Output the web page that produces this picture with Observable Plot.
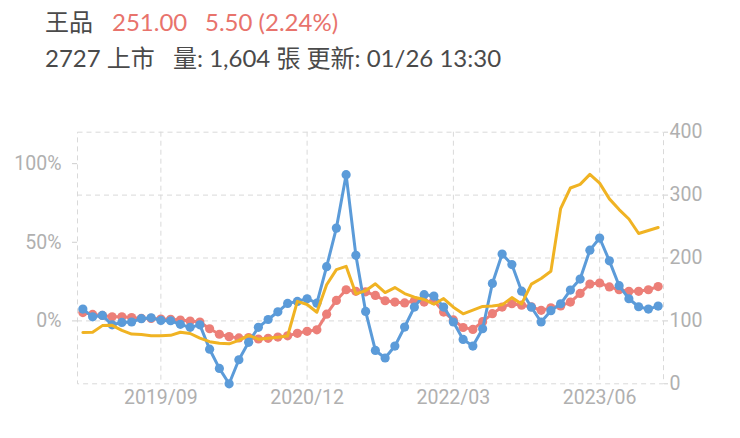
<!DOCTYPE html>
<html><head><meta charset="utf-8">
<script src="https://cdn.jsdelivr.net/npm/d3@7"></script>
<script src="https://cdn.jsdelivr.net/npm/@observablehq/plot@0.6"></script>
<style>
body{margin:0;background:#fff;width:740px;height:438px;overflow:hidden;font-family:Lato,"Noto Sans CJK TC",sans-serif;}
#hdr{position:relative;height:84px;}
#hdr span{position:absolute;white-space:nowrap;font-size:24px;line-height:24px;}
#chart svg{display:block;}
</style></head><body>
<div id="hdr">
<span style="left:45px;top:10px;color:#4a4a4a">王品</span>
<span style="left:112px;top:10px;color:#e8736c">251.00</span>
<span style="left:205px;top:10px;color:#e8736c">5.50 (2.24%)</span>
<span style="left:45px;top:46px;color:#4a4a4a">2727 上市</span>
<span style="left:173px;top:46px;color:#4a4a4a">量: 1,604 張 更新: 01/26 13:30</span>
</div>
<div id="chart"></div>
<script>
const months = [
"2019/01","2019/02","2019/03","2019/04","2019/05","2019/06","2019/07","2019/08","2019/09","2019/10","2019/11","2019/12",
"2020/01","2020/02","2020/03","2020/04","2020/05","2020/06","2020/07","2020/08","2020/09","2020/10","2020/11","2020/12",
"2021/01","2021/02","2021/03","2021/04","2021/05","2021/06","2021/07","2021/08","2021/09","2021/10","2021/11","2021/12",
"2022/01","2022/02","2022/03","2022/04","2022/05","2022/06","2022/07","2022/08","2022/09","2022/10","2022/11","2022/12",
"2023/01","2023/02","2023/03","2023/04","2023/05","2023/06","2023/07","2023/08","2023/09","2023/10","2023/11","2023/12"];
// monthly revenue YoY (%), left axis
const revenueYoY = [7.5,2.6,3.5,-2.5,-1.0,-0.7,1.4,2.0,0.3,0.1,
 -2.2,-4.1,-2.5,-18.0,-30.2,-40,-24.7,-13.6,-4.1,0.9,
 5.8,11.1,12.4,14.1,11.3,34.5,59,93,41.7,6.0,
 -18.8,-23.6,-16,-3.9,8.8,16.7,15.8,8.8,-0.7,-11.8,
 -16,-5.0,23.8,42.5,35.8,18.9,8.7,-0.7,6.5,10.9,
 19.6,26.6,45,52.7,38.2,22.4,14.1,9.0,7.5,9.4];
// cumulative revenue YoY (%), left axis
const cumulativeYoY = [5.3,4.1,3.5,2.6,2.6,2.1,1.6,1.6,1.2,1.0,
 0.5,-0.1,-0.7,-5.0,-8.5,-10.0,-10.8,-10.6,-11.5,-11.1,
 -10.3,-9.5,-7.9,-6.6,-5.7,4.3,13.0,19.8,18.8,18.5,
 16.2,12.8,12.0,11.4,12.8,12.0,13.0,5.6,0.6,-4.2,
 -5.4,-0.5,4.6,8.8,10.9,10.0,9.0,6.7,8.3,9.5,
 12.0,17.5,23.4,24.1,21.6,19.8,18.8,18.8,19.8,21.8];
// monthly price, right axis
const price = [81.5,82,92.5,93,85,79,78.5,76.5,76.5,77,
 82,80,72.5,67,64.5,63.6,69,77,71,72.5,
 74,76,131,126,113.8,157.5,181.5,186.7,143,148,
 159,145,153,143.5,137.7,134,126.5,135.5,121.8,111.3,
 117,123,123.7,125.5,137,127,158.5,167.5,178.8,278.5,
 311.3,317,333,319,294,277,262,239,243.7,248.5];
const pctTicks = [0, 50, 100];
const priceTicks = [0, 100, 200, 300, 400];
const dateTicks = ["2019/09","2020/12","2022/03","2023/06"];

const BLUE = "#5b9bd9", RED = "#ec7f78", YELLOW = "#f0b323";
const pctToPrice = p => 100 + 2.5 * p;
const rows = months.map((m, i) => ({month: m, rev: revenueYoY[i], cum: cumulativeYoY[i], price: price[i]}));
const grid = {stroke: "#d9d9d9", strokeOpacity: 1, strokeDasharray: "5,4"};
const axisColor = "#b0b0b0";

const chart = Plot.plot({
  width: 740, height: 354,
  marginLeft: 77, marginRight: 77, marginTop: 47.7, marginBottom: 54.7,
  style: {fontFamily: "Roboto", fontSize: "19.5px", background: "#fff", overflow: "visible"},
  x: {type: "point", domain: months, padding: 0.55, axis: null},
  y: {domain: [0, 400], axis: null},
  marks: [
    Plot.gridX(dateTicks, grid),
    Plot.gridY([100, 200, 300], grid),
    Plot.frame(grid),
    Plot.axisX({ticks: dateTicks, anchor: "bottom", label: null, tickSize: 0, tickPadding: 6, fill: axisColor, fontSize: 19.5}),
    Plot.axisY({ticks: pctTicks.map(pctToPrice), anchor: "left", label: null, tickSize: 5, tickPadding: 11,
      tickFormat: v => Math.round((v - 100) / 2.5) + "%", stroke: "#cfcfcf", fill: axisColor, fontSize: 19.5}),
    Plot.axisY({ticks: priceTicks, anchor: "right", label: null, tickSize: 4, tickPadding: 2,
      stroke: "#cfcfcf", fill: axisColor, fontSize: 19.5}),
    Plot.line(rows, {x: "month", y: d => pctToPrice(d.cum), stroke: RED, strokeWidth: 3}),
    Plot.dot(rows, {x: "month", y: d => pctToPrice(d.cum), fill: RED, r: 4.6}),
    Plot.line(rows, {x: "month", y: d => pctToPrice(d.rev), stroke: BLUE, strokeWidth: 3}),
    Plot.dot(rows, {x: "month", y: d => pctToPrice(d.rev), fill: BLUE, r: 4.6}),
    Plot.line(rows, {x: "month", y: "price", stroke: YELLOW, strokeWidth: 3})
  ]
});
document.getElementById("chart").appendChild(chart);
</script>
</body></html>
